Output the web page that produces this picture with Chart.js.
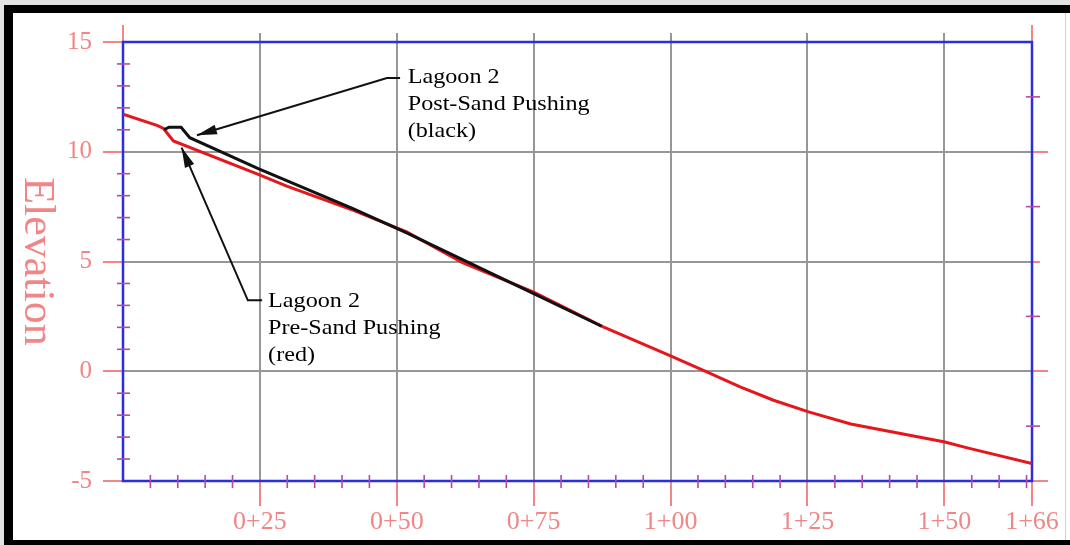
<!DOCTYPE html>
<html>
<head>
<meta charset="utf-8">
<script src="https://cdn.jsdelivr.net/npm/chart.js@4.4.0/dist/chart.umd.min.js"></script>
<style>
  html, body { margin: 0; padding: 0; background: #ffffff; }
  #wrap { width: 1070px; height: 545px; }
</style>
</head>
<body>
<div id="wrap"><canvas id="c" width="1070" height="545"></canvas></div>
<script>
// ---------------- DATA ----------------
// Station (ft) and elevation for the pre-sand pushing profile (red)
const preStation = [0, 6.2, 7.4, 9.2, 24.7, 29.9, 42.1, 51.8, 62, 75, 87.7, 100.2, 106.6, 112.7, 118.8, 125.2, 132.9, 150.1, 154, 166];
const preElev    = [11.71, 11.2, 11.06, 10.49, 8.97, 8.43, 7.33, 6.35, 4.95, 3.6, 2.02, 0.68, -0.03, -0.71, -1.32, -1.85, -2.4, -3.22, -3.48, -4.21];

// Post-sand pushing profile (black)
const postStation = [7.5, 8.4, 10.6, 12.2, 24.7, 42.1, 51.8, 75, 87.4];
const postElev    = [11.0, 11.12, 11.12, 10.64, 9.23, 7.4, 6.3, 3.54, 2.05];

// Axis ticks
const stationTicks  = [0, 25, 50, 75, 100, 125, 150, 166];
const stationLabels = ['', '0+25', '0+50', '0+75', '1+00', '1+25', '1+50', '1+66'];
const elevTicks     = [-5, 0, 5, 10, 15];
const yAxisTitle    = 'Elevation';

// Annotations (text and arrow anchor points in data units)
const postLabelLines = ['Lagoon 2', 'Post-Sand Pushing', '(black)'];
const postLabelAt    = [52.0, 13.12];
const postArrowPath  = [[50.6, 13.36], [48.2, 13.36], [13.5, 10.75]];
const preLabelLines  = ['Lagoon 2', 'Pre-Sand Pushing', '(red)'];
const preLabelAt     = [26.5, 2.93];
const preArrowPath   = [[25.4, 3.23], [22.8, 3.23], [10.7, 10.19]];

// ---------------- STYLE ----------------
const PINK = '#f08686';
const TICKPURPLE = '#b24aa6';
const GRID = '#979797';
const BLUE = '#2c2ce0';
const SERIF = '"Liberation Serif", "Times New Roman", serif';

const decor = {
  id: 'decor',
  beforeDraw(chart) {
    const ctx = chart.ctx;
    ctx.save();
    ctx.fillStyle = '#ffffff';
    ctx.fillRect(0, 0, chart.width, chart.height);
    // outer frame
    ctx.fillStyle = '#e2e2e2';
    ctx.fillRect(0, 0, chart.width, 5);
    ctx.fillRect(0, 0, 4, chart.height);
    ctx.fillStyle = '#000000';
    ctx.fillRect(4, 5, chart.width - 4, 8);
    ctx.fillRect(4, 5, 9, chart.height - 5);
    ctx.fillRect(4, 540, chart.width - 4, 5);
    ctx.fillStyle = '#d0d0d0';
    ctx.fillRect(1065, 13, 1, 527);
    ctx.restore();
  },
  beforeDatasetsDraw(chart) {
    const ctx = chart.ctx;
    const a = chart.chartArea;
    const xs = chart.scales.x, ys = chart.scales.y;
    ctx.save();
    // top extensions of vertical grid lines
    ctx.lineWidth = 2;
    stationTicks.forEach(v => {
      const px = Math.round(xs.getPixelForValue(v));
      ctx.strokeStyle = (v === 0 || v === 166) ? PINK : GRID;
      const len = (v === 0 || v === 166) ? 17 : 9;
      ctx.beginPath(); ctx.moveTo(px, a.top - len); ctx.lineTo(px, a.top); ctx.stroke();
    });
    // right extensions of horizontal grid lines
    elevTicks.forEach(v => {
      if (v === 15) return;
      const py = Math.round(ys.getPixelForValue(v));
      const len = v === 5 ? 8 : 16;
      ctx.strokeStyle = PINK;
      ctx.beginPath(); ctx.moveTo(a.right, py); ctx.lineTo(a.right + len, py); ctx.stroke();
    });
    // blue frame
    ctx.strokeStyle = BLUE;
    ctx.lineWidth = 2.5;
    ctx.strokeRect(a.left, a.top, a.right - a.left, a.bottom - a.top);
    // minor ticks
    ctx.strokeStyle = TICKPURPLE;
    ctx.lineWidth = 1.6;
    for (let v = -4; v < 15; v++) {
      if (v % 5 === 0) continue;
      const py = ys.getPixelForValue(v);
      ctx.beginPath(); ctx.moveTo(a.left - 6, py); ctx.lineTo(a.left + 7, py); ctx.stroke();
    }
    for (let v = -2.5; v < 15; v += 5) {
      const py = ys.getPixelForValue(v);
      ctx.beginPath(); ctx.moveTo(a.right - 6, py); ctx.lineTo(a.right + 8, py); ctx.stroke();
    }
    for (let v = 5; v < 166; v += 5) {
      if (v % 25 === 0) continue;
      const px = xs.getPixelForValue(v);
      ctx.beginPath(); ctx.moveTo(px, a.bottom - 6); ctx.lineTo(px, a.bottom + 7); ctx.stroke();
    }
    // y title, rotated clockwise
    ctx.fillStyle = PINK;
    ctx.font = '44px ' + SERIF;
    ctx.textAlign = 'center';
    ctx.textBaseline = 'alphabetic';
    ctx.translate(25, (a.top + a.bottom) / 2);
    ctx.rotate(Math.PI / 2);
    ctx.fillText(yAxisTitle, 0, 0);
    ctx.restore();
  },
  afterDatasetsDraw(chart) {
    const ctx = chart.ctx;
    const xs = chart.scales.x, ys = chart.scales.y;
    const P = p => [xs.getPixelForValue(p[0]), ys.getPixelForValue(p[1])];
    function arrow(path) {
      const pts = path.map(P);
      ctx.save();
      ctx.strokeStyle = '#111';
      ctx.fillStyle = '#111';
      ctx.lineWidth = 2;
      ctx.beginPath();
      ctx.moveTo(pts[0][0], pts[0][1]);
      for (let i = 1; i < pts.length; i++) ctx.lineTo(pts[i][0], pts[i][1]);
      ctx.stroke();
      const tip = pts[pts.length - 1], prev = pts[pts.length - 2];
      const ang = Math.atan2(tip[1] - prev[1], tip[0] - prev[0]);
      const L = 20, W = 5;
      ctx.translate(tip[0], tip[1]);
      ctx.rotate(ang);
      ctx.beginPath();
      ctx.moveTo(0, 0);
      ctx.lineTo(-L, -W);
      ctx.lineTo(-L, W);
      ctx.closePath();
      ctx.fill();
      ctx.restore();
    }
    function label(lines, at) {
      const p = P(at);
      ctx.save();
      ctx.fillStyle = '#000000';
      ctx.font = '21px ' + SERIF;
      ctx.textAlign = 'left';
      ctx.textBaseline = 'alphabetic';
      ctx.translate(p[0], p[1]);
      ctx.scale(1.15, 1);
      lines.forEach((t, i) => ctx.fillText(t, 0, i * 27));
      ctx.restore();
    }
    arrow(postArrowPath);
    arrow(preArrowPath);
    label(postLabelLines, postLabelAt);
    label(preLabelLines, preLabelAt);
  }
};

const toPts = (xs, ys) => xs.map((x, i) => ({ x: x, y: ys[i] }));

new Chart(document.getElementById('c').getContext('2d'), {
  type: 'scatter',
  data: {
    datasets: [
      {
        label: 'Lagoon 2 Post-Sand Pushing',
        data: toPts(postStation, postElev),
        showLine: true, borderColor: '#111111', borderWidth: 3,
        pointRadius: 0, tension: 0, order: 0, fill: false
      },
      {
        label: 'Lagoon 2 Pre-Sand Pushing',
        data: toPts(preStation, preElev),
        showLine: true, borderColor: '#e5161c', borderWidth: 3,
        pointRadius: 0, tension: 0, order: 1, fill: false
      }
    ]
  },
  options: {
    responsive: false,
    animation: false,
    devicePixelRatio: 1,
    layout: { padding: { top: 42, right: 38, left: 0, bottom: 0 } },
    plugins: { legend: { display: false }, tooltip: { enabled: false } },
    scales: {
      x: {
        type: 'linear', min: 0, max: 166,
        afterBuildTicks: s => { s.ticks = stationTicks.map(v => ({ value: v })); },
        afterFit: s => { s.height = 64; },
        border: { display: false },
        grid: {
          color: GRID, lineWidth: 2, tickLength: 25, tickWidth: 2,
          tickColor: c => (c.tick && c.tick.value === 0) ? 'rgba(0,0,0,0)' : PINK
        },
        ticks: {
          autoSkip: false, maxRotation: 0, minRotation: 0, padding: 1,
          color: PINK, font: { family: SERIF, size: 26 },
          callback: v => stationLabels[stationTicks.indexOf(v)]
        }
      },
      y: {
        type: 'linear', min: -5, max: 15,
        afterBuildTicks: s => { s.ticks = elevTicks.map(v => ({ value: v })); },
        afterFit: s => { s.width = 123; },
        border: { display: false },
        grid: { color: GRID, lineWidth: 2, tickLength: 20, tickWidth: 2, tickColor: PINK },
        ticks: {
          padding: 11, color: PINK, font: { family: SERIF, size: 25 },
          callback: v => String(v)
        }
      }
    }
  },
  plugins: [decor]
});
</script>
</body>
</html>
